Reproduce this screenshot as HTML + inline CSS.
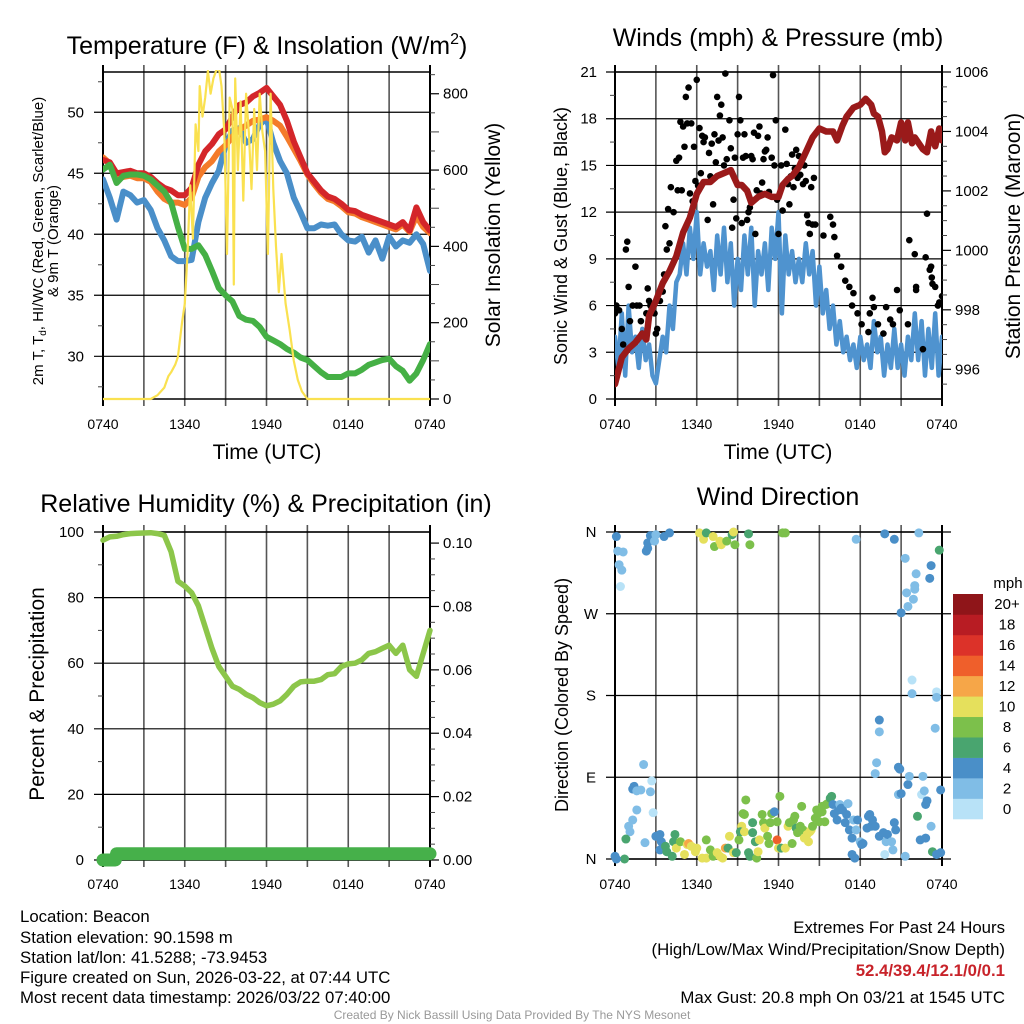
<!DOCTYPE html>
<html><head><meta charset="utf-8"><style>
html,body{margin:0;padding:0;background:#fff;}
svg{display:block;font-family:"Liberation Sans",Arial,sans-serif;}
</style></head><body>
<svg id="fig" width="1024" height="1024" viewBox="0 0 1024 1024" xmlns="http://www.w3.org/2000/svg">
<rect width="1024" height="1024" fill="#fff"/>
<text x="267" y="54" font-size="25" text-anchor="middle">Temperature (F) &amp; Insolation (W/m<tspan dy="-10" font-size="16">2</tspan><tspan dy="10">)</tspan></text>
<text x="778" y="46" font-size="25" text-anchor="middle">Winds (mph) &amp; Pressure (mb)</text>
<text x="266" y="512" font-size="25" text-anchor="middle">Relative Humidity (%) &amp; Precipitation (in)</text>
<text x="778" y="505" font-size="25" text-anchor="middle">Wind Direction</text>
<text x="267" y="459" font-size="21" text-anchor="middle">Time (UTC)</text>
<text x="778" y="459" font-size="21" text-anchor="middle">Time (UTC)</text>
<text transform="translate(43,241) rotate(-90)" font-size="15" text-anchor="middle">2m T, T<tspan dy="3" font-size="10">d</tspan><tspan dy="-3">, HI/WC (Red, Green, Scarlet/Blue)</tspan></text>
<text transform="translate(58,241) rotate(-90)" font-size="15" text-anchor="middle">&amp; 9m T (Orange)</text>
<text transform="translate(500,235) rotate(-90)" font-size="21" text-anchor="middle">Solar Insolation (Yellow)</text>
<text transform="translate(567,236) rotate(-90)" font-size="18" text-anchor="middle">Sonic Wind &amp; Gust (Blue, Black)</text>
<text transform="translate(1020,236) rotate(-90)" font-size="21" text-anchor="middle">Station Pressure (Maroon)</text>
<text transform="translate(44,694) rotate(-90)" font-size="21" text-anchor="middle">Percent &amp; Precipitation</text>
<text transform="translate(568,695) rotate(-90)" font-size="18" text-anchor="middle">Direction (Colored By Speed)</text>
<g id="layer"></g>
<g font-size="16.8">
<text x="20" y="922">Location: Beacon</text>
<text x="20" y="943">Station elevation: 90.1598 m</text>
<text x="20" y="963">Station lat/lon: 41.5288; -73.9453</text>
<text x="20" y="983">Figure created on Sun, 2026-03-22, at 07:44 UTC</text>
<text x="20" y="1003">Most recent data timestamp: 2026/03/22 07:40:00</text>
</g>
<g font-size="16.8" text-anchor="end">
<text x="1005" y="933">Extremes For Past 24 Hours</text>
<text x="1005" y="955">(High/Low/Max Wind/Precipitation/Snow Depth)</text>
<text x="1005" y="976" fill="#c8232a" font-weight="bold">52.4/39.4/12.1/0/0.1</text>
<text x="1005" y="1003">Max Gust: 20.8 mph On 03/21 at 1545 UTC</text>
</g>
<text x="512" y="1019" font-size="12" fill="#999" text-anchor="middle">Created By Nick Bassill Using Data Provided By The NYS Mesonet</text>
</svg>
<script>
// ---------- data ----------
const hourTicks = ["0740","1340","1940","0140","0740"];
const halfHours = [0,0.5,1,1.5,2,2.5,3,3.5,4,4.5,5,5.5,6,6.5,7,7.5,8,8.5,9,9.5,10,10.5,11,11.5,12,12.5,13,13.5,14,14.5,15,15.5,16,16.5,17,17.5,18,18.5,19,19.5,20,20.5,21,21.5,22,22.5,23,23.5,24];
const tempRed = [46.1,45.9,45.0,45.1,45.2,45.0,45.0,44.7,44.2,43.8,43.6,43.2,43.2,43.8,45.7,46.8,47.4,48.2,48.6,49.6,50.6,50.8,51.3,51.6,52.0,51.3,50.6,49.3,47.6,46.3,45.0,44.3,43.6,43.1,42.9,42.5,42.0,41.9,41.6,41.4,41.2,41.0,40.8,40.6,41.0,40.3,42.2,41.0,40.3];
const tempOrange = [46.3,45.8,44.6,44.7,44.8,44.6,44.6,44.3,43.5,42.9,42.6,42.6,42.4,43.0,44.7,45.5,46.0,46.8,47.3,48.0,48.6,48.9,49.3,49.4,49.6,49.3,48.9,48.0,47.0,46.0,44.9,44.1,43.4,42.9,42.7,42.3,41.8,41.7,41.4,41.2,41.0,40.8,40.6,40.4,40.8,40.2,41.5,40.6,40.1];
const dewGreen = [45.3,45.7,44.2,44.8,44.9,44.9,44.8,44.5,44.0,43.5,42.6,40.6,38.8,38.8,39.1,38.3,37.0,35.6,35.0,34.5,33.3,33.0,32.9,32.4,31.6,31.3,31.0,30.6,30.3,29.9,29.7,29.2,28.7,28.3,28.3,28.3,28.6,28.6,28.9,29.3,29.5,29.7,29.8,29.2,28.8,28.0,28.6,29.7,31.0];
const chillBlue = [44.5,43.0,41.2,43.5,43.2,42.6,42.8,42.0,40.5,39.5,38.2,37.8,37.8,37.9,41.0,43.0,44.2,45.2,47.3,48.5,48.7,47.5,47.8,49.0,49.5,47.5,46.0,45.0,43.0,41.8,40.5,40.5,40.8,40.7,40.8,40.0,39.5,39.4,39.8,38.5,39.5,38.0,39.8,39.0,39.5,39.3,40.0,39.2,37.0];
const solarTimes = [0,3.5,4,4.5,4.8,5,5.3,5.5,5.8,6,6.2,6.4,6.6,6.8,7,7.1,7.3,7.5,7.7,7.9,8.1,8.3,8.5,8.7,8.9,9.1,9.3,9.5,9.6,9.7,9.9,10.1,10.3,10.5,10.7,10.9,11.1,11.3,11.5,11.7,11.9,12.1,12.3,12.5,12.7,12.9,13.1,13.4,13.7,14,14.3,14.6,15,15.5,24];
const solarVals = [0,0,10,30,60,70,90,110,200,250,380,560,420,720,650,820,740,790,860,800,840,860,870,820,700,380,790,760,300,840,600,780,520,800,700,550,760,600,800,700,650,380,800,550,400,280,380,250,180,100,50,20,0,0,0];
const windVals = [4,2,5.5,1.5,6,3,4,2,4.5,2.5,3.5,1.5,1,2.5,4,3,6,4.5,7.5,8,10,8,11,9,12,8,10,8.5,9.5,7,10.5,8,11,7.5,10,6,9,7,10.5,8,11,6,9.5,8,10,7,11,9,12,5.5,10.5,8,9.5,7.5,9,7.5,10,8,9.5,6,8.5,5.5,7,4.5,6,3.5,5,3,4,2.5,3.5,2,4,2.5,3.5,2,5,3,4,1.5,3.5,2,4.5,2,3.5,1.5,4,2.5,5.5,2.5,5,1.5,4.5,2,5.5,1.5,4];
const gustTimes = [0,0.1,0.3,0.5,0.6,0.8,0.9,1,1.1,1.3,1.5,1.6,1.8,1.9,2,2.3,2.4,2.5,2.6,2.7,2.9,3,3.1,3.3,3.5,3.6,3.7,3.8,3.9,4,4.1,4.3,4.5,4.6,4.7,4.8,4.9,5,5.1,5.2,5.3,5.4,5.5,5.6,5.7,5.8,5.9,6,6.1,6.2,6.3,6.4,6.5,6.6,6.8,6.9,7,7.1,7.2,7.3,7.4,7.5,7.6,7.7,7.8,7.9,8,8.1,8.2,8.4,8.5,8.6,8.7,8.8,8.9,9,9.1,9.2,9.3,9.4,9.5,9.6,9.7,9.8,9.9,10,10.1,10.2,10.3,10.4,10.5,10.6,10.7,10.8,10.9,11,11.1,11.2,11.3,11.5,11.6,11.7,11.8,11.9,12,12.2,12.3,12.5,12.6,12.7,12.8,12.9,13,13.1,13.2,13.3,13.4,13.5,13.6,13.8,13.9,14,14.1,14.2,14.3,14.4,14.5,14.6,14.7,15.3,15.8,16,16.1,16.3,16.6,16.9,17.2,17.4,17.5,17.8,18.1,18.6,18.7,18.9,19,19.3,19.7,19.9,20.2,20.4,20.7,20.9,21.5,21.6,22,22.1,22.1,22.6,22.8,22.9,23.1,23.2,23.25,23.3,23.5,23.7,23.8,24];
const gustVals = [5.5,6,5.7,4.5,3.5,9.6,10.1,7.2,5,6,8.5,6,6,5,4.2,5.5,7.1,6.3,6,5.8,5.5,4.2,4.5,6.3,6.9,8,11.1,9.6,12.2,10,13.6,12,15.3,13.4,15.5,17.8,13.4,17.5,16.2,19.4,17.7,20,13.2,17.7,12.7,16.2,14,20.5,13.7,17.4,14.5,16.9,16.5,16.8,11.5,15.8,14.3,16.4,12.5,17,15.2,19.4,16.6,18.2,18.9,16.8,15,20.9,15.4,17.9,16.1,11,12.8,15.5,11.6,17,19.4,17.9,11.3,15.5,17,15.6,11.5,12,12.3,15.6,15.4,17.1,10.6,13.4,16.9,17.5,13.2,13.9,15.4,15.9,16,16.8,13.3,15.5,20.8,15,17.9,12.8,10.6,15,12.1,17.3,15.1,13.8,12.5,14.3,15.7,13.6,14.8,16,14.2,15.6,14.4,13.8,15,14,11.8,11.3,10.6,13.6,11.2,14.2,11.2,10.5,11.7,11.2,10.4,9.2,8.5,7.6,7.2,6,6.8,5.5,4.8,4.3,5.5,6.5,5.9,4.8,4.2,5.9,5.1,4.8,7,5.7,4.8,10.2,9.3,7.2,7,3.2,9.1,11.9,8.3,8.5,7.8,7.4,7.2,6,6.2,6.6,3.5];
const pressTimes = [0,0.5,1,1.5,2,2.3,2.5,3,3.5,4,4.5,5,5.5,6,6.5,7,7.5,8,8.5,9,9.3,9.7,10,10.5,11,11.5,12,12.3,12.7,13,13.5,14,14.5,15,15.5,16,16.3,16.7,17,17.5,18,18.4,18.8,19,19.3,19.6,19.8,20,20.3,20.7,21,21.3,21.5,21.8,22,22.3,22.6,22.9,23.2,23.5,23.8,24];
const pressVals = [995.5,996.4,996.7,996.9,997.2,997.0,997.8,998.3,998.9,999.3,999.8,1000.6,1001.1,1001.9,1002.3,1002.3,1002.5,1002.6,1002.7,1002.2,1002.2,1002.0,1001.6,1001.8,1001.9,1001.8,1001.8,1002.2,1002.4,1002.5,1002.8,1003.3,1003.8,1004.1,1004.0,1004.0,1003.7,1004.2,1004.5,1004.8,1004.9,1005.1,1004.9,1004.6,1004.5,1004.0,1003.3,1003.4,1003.8,1003.7,1004.3,1003.7,1004.3,1003.6,1003.8,1003.6,1003.4,1003.3,1004.0,1003.5,1004.1,1003.7];
const rhVals = [97.5,98.5,98.7,99.2,99.5,99.6,99.7,99.8,99.5,99.0,94,85,83.5,81.5,77.5,71,64.5,59,56,53,52,50.5,49.5,48,47,47.5,48.5,50.5,53,54.3,54.5,54.5,55,56.5,56.8,59,59.8,60,61,63,63.5,64.5,65.5,63,65.5,58,56,63,70];
const precipTimes = [0,0.9,1.0,24];
const precipVals = [0,0,0.002,0.002];
const dirTimes = [0.1,0.2,0.6,0.3,0.5,0.4,2.3,2.4,2.4,2.6,2.9,3,3.6,4,6.2,6.5,6.7,7.2,7.3,7.7,7.8,8.2,8.6,8.7,8.8,9.8,9.9,12.3,12.5,17.7,19.8,20.5,21.3,22.3,23.8,23.2,23.1,22.1,22,22,21.4,21.9,21.5,21,21.8,21.8,23.6,23.6,19.4,19.4,23.5,19.2,19.1,2.1,2.7,20.8,20.9,1.4,1.3,1.6,1.9,2.6,1.6,1.3,1,1.1,0.8,0.7,0,0.1,2.8,2.2,3,3.3,3.4,3.3,3.7,3.8,4.2,4.4,4.3,4.5,4.8,5.1,5.3,5.4,5.6,5.9,6,6.4,6.7,6.7,7,7.2,7.5,7.7,7.9,8.1,8.3,8.4,8.7,8.9,9.1,9.3,9.2,9.5,9.4,9.6,9.5,9.8,9.9,10.1,10.1,10.3,10.4,10.5,10.6,10.8,10.9,11,11.2,11.3,11.4,11.5,11.7,11.9,11.9,12,12.1,12.2,12.5,12.7,12.8,13,13.1,13.2,13.3,13.4,13.6,13.7,13.8,13.9,14.1,14.2,14.3,14.4,14.5,14.7,14.8,14.9,15,15.2,15.2,15.4,15.5,15.6,15.8,15.9,16,16.1,16.3,16.4,16.5,16.6,16.7,16.9,17,17.1,17.2,17.4,17.5,17.4,17.6,17.7,17.8,18,18.1,18.2,18.5,18.6,18.7,18.8,18.9,19.1,19.4,19.7,19.8,19.9,20,20.3,20.4,20.5,20.6,20.8,21,21.3,21.5,21.6,22.2,22.4,22.5,22.6,22.7,22.8,22.9,22.8,23.2,23.3,23.6,23.9,23.9];
const dirDegs = [355,339,338,324,318,300,339,342,348,356,350,357,355,359,359,352,359,355,344,350,346,350,357,360,346,358,346,359,359,352,358,352,331,359,340,323,309,314,301,297,293,286,278,271,197,182,184,178,153,140,144,106,94,104,86,101,99,80,77,75,76,74,54,43,36,30,22,0,3,0,51,18,25,27,19,10,14,8,3,27,19,12,19,5,16,17,14,8,12,1,21,1,10,3,7,3,1,12,12,25,7,7,21,36,30,30,50,65,49,7,3,29,40,19,1,8,21,49,40,34,25,17,40,50,52,41,21,12,69,12,12,36,40,17,43,47,34,29,36,58,32,23,27,19,30,32,36,45,54,50,41,52,58,41,60,61,67,69,60,50,43,54,60,56,54,40,49,61,32,23,43,5,1,32,43,19,16,17,34,47,49,36,43,36,25,29,5,19,27,19,10,40,32,71,72,3,82,91,47,21,71,91,75,23,64,60,36,8,5,76,7];
const dirSpeeds = [5,3,3,3,3,1,5,5,5,5,3,3,5,5,11,11,7,11,9,11,11,9,7,11,9,7,9,9,9,3,5,5,3,3,7,5,5,3,3,3,3,3,3,5,1,3,1,3,5,3,3,3,3,3,1,5,5,5,5,3,3,3,3,3,3,3,7,7,5,5,1,3,5,5,5,5,7,7,7,7,7,11,9,11,11,13,11,11,11,11,9,11,9,9,11,11,11,13,7,11,11,7,9,11,7,11,9,9,9,7,7,7,7,7,9,11,11,9,9,11,9,9,9,9,5,9,15,11,9,7,11,11,9,9,9,9,7,9,9,9,9,11,11,11,11,11,9,9,9,9,9,9,9,9,9,9,7,7,5,5,5,5,3,5,5,5,5,3,5,5,3,5,5,3,5,3,5,5,5,5,5,5,5,5,5,5,1,3,5,3,3,5,5,3,5,3,5,3,7,5,1,3,3,5,5,5,3,7,5,5,5,3,3];
const cbarColors = ["#b8e2f7","#80bde6","#4a8fc8","#49a56f","#7cc04b","#e5e05c","#f6a648","#ef5f2b","#dc3229","#b81c23","#8f1519"];
const cbarLabels = ["0","2","4","6","8","10","12","14","16","18","20+"];

// ---------- drawing ----------
const NS="http://www.w3.org/2000/svg";
const layer=document.getElementById('layer');
function mk(tag,attrs,parent){const e=document.createElementNS(NS,tag);for(const k in attrs)e.setAttribute(k,attrs[k]);(parent||layer).appendChild(e);return e;}
function panel(x0,x1,y0,y1){return {x0,x1,y0,y1,sx:h=>x0+(x1-x0)*h/24};}
const P1=panel(103,430,72,399),P2=panel(615,942,72,399),P3=panel(103,430,532,860),P4=panel(615,942,532,859);
function lin(d0,d1,p0,p1){return v=>p0+(v-d0)*(p1-p0)/(d1-d0);}
const y1L=lin(26.5,53.3,399,72), y1R=lin(0,857,399,72);
const y2L=lin(0,21,399,72), y2R=lin(995,1006,399,72);
const y3L=lin(0,100,860,532), y3R=lin(0,0.1035,860,532);
const y4=lin(0,360,859,532);

function frame(P,name,tickRow){
  const g=mk('g',{});
  
  
  for(let i=0;i<=8;i++){
    const x=P.x0+(P.x1-P.x0)*i/8;
    const l=mk('line',{x1:x,x2:x,y1:P.y0-7,y2:P.y1+7,stroke:(i==0||i==8)?'#000':'#555','stroke-width':(i==0||i==8)?2:1.6},g);
    
    
  }
  const r=mk('rect',{x:P.x0,y:P.y0,width:P.x1-P.x0,height:P.y1-P.y0,fill:'none',stroke:'#000','stroke-width':1.5},g);
  
  
  hourTicks.forEach((t,i)=>{
    const tx=mk('text',{x:P.x0+(P.x1-P.x0)*i/4,y:tickRow,'font-size':14,'text-anchor':'middle'},g);
    tx.textContent=t;
    
    
  });
}
function hgrid(P,ys,labels,xr,lx,anchor,fs){
  ys.forEach((y,i)=>{
    const l=mk('line',{x1:P.x0-9,x2:xr,y1:y,y2:y,stroke:'#000','stroke-width':1.2});
    
    
    const t=mk('text',{x:lx,y:y+5,'font-size':fs||15,'text-anchor':anchor||'end'});
    t.textContent=labels[i];
    
    
  });
}
function minorTicks(x,ys,dir,len){ys.forEach(y=>{const l=mk('line',{x1:x,x2:x+dir*len,y1:y,y2:y,stroke:'#444','stroke-width':1});});}
function rightTicks(P,vals,f,labels,lx){
  vals.forEach((v,i)=>{const y=f(v);
    const l=mk('line',{x1:P.x1,x2:P.x1+9,y1:y,y2:y,stroke:'#000','stroke-width':1.2});
    
    
    const t=mk('text',{x:lx,y:y+5,'font-size':15});
    t.textContent=labels[i];
    
    
  });
}
function path(xs,ys,sx,sy,attrs,name){
  let d='',pen=false;
  for(let i=0;i<xs.length;i++){
    if(ys[i]==null){pen=false;continue;}
    d+=(pen?'L':'M')+sx(xs[i]).toFixed(1)+','+sy(ys[i]).toFixed(1);pen=true;
  }
  const p=mk('path',Object.assign({d,fill:'none','stroke-linejoin':'round','stroke-linecap':'round'},attrs));
  
  
  return p;
}
const defs=mk('defs',{});
[[P1,'c1'],[P2,'c2'],[P3,'c3'],[P4,'c4']].forEach(([P,id])=>{const c=mk('clipPath',{id},defs);mk('rect',{x:P.x0,y:P.y0-2,width:P.x1-P.x0,height:P.y1-P.y0+4},c);});

// Panel 1
frame(P1,'temperature',429);
hgrid(P1,[30,35,40,45,50].map(y1L),['30','35','40','45','50'],P1.x1,84);
minorTicks(P1.x0,[27.5,32.5,37.5,42.5,47.5,52.5].map(y1L),-1,5);
rightTicks(P1,[0,200,400,600,800],y1R,['0','200','400','600','800'],443);
minorTicks(P1.x1,[100,300,500,700].map(y1R),1,9);
minorTicks(P1.x1,[50,150,250,350,450,550,650,750,850].map(y1R),1,5);
const g1=mk('g',{'clip-path':'url(#c1)'});
const p1a=path(halfHours,chillBlue,P1.sx,y1L,{stroke:'#4a8fc9','stroke-width':6},'wind-chill-line');
const p1b=path(halfHours,tempOrange,P1.sx,y1L,{stroke:'#f47b2a','stroke-width':6},'temp-9m-line');
const p1c=path(halfHours,tempRed,P1.sx,y1L,{stroke:'#d4262a','stroke-width':6},'temp-2m-line');
const p1d=path(halfHours,dewGreen,P1.sx,y1L,{stroke:'#45b045','stroke-width':6},'dewpoint-line');
const p1e=path(solarTimes,solarVals,P1.sx,y1R,{stroke:'#fae150','stroke-width':2.2},'solar-line');
[p1a,p1b,p1c,p1d,p1e].forEach(p=>g1.appendChild(p));

// Panel 2
frame(P2,'winds',429);
hgrid(P2,[0,3,6,9,12,15,18,21].map(y2L),['0','3','6','9','12','15','18','21'],P2.x1,597);
minorTicks(P2.x0,[1.5,4.5,7.5,10.5,13.5,16.5,19.5].map(y2L),-1,5);
rightTicks(P2,[996,998,1000,1002,1004,1006],y2R,['996','998','1000','1002','1004','1006'],955);
minorTicks(P2.x1,[995.5,996.5,997,997.5,998.5,999,999.5,1000.5,1001,1001.5,1002.5,1003,1003.5,1004.5,1005,1005.5].map(y2R),1,5);
const g2=mk('g',{'clip-path':'url(#c2)'});
const windTimes=windVals.map((v,i)=>i*0.25);
g2.appendChild(path(windTimes,windVals,P2.sx,y2L,{stroke:'#4f93cf','stroke-width':4.5},'sonic-wind-line'));
gustTimes.forEach((t,i)=>{
  const c=mk('circle',{cx:P2.sx(t),cy:y2L(gustVals[i]),r:3.3,fill:'#000'},g2);
  
  
});
g2.appendChild(path(pressTimes,pressVals,P2.sx,y2R,{stroke:'#9a1a1a','stroke-width':6.5},'pressure-line'));

// Panel 3
frame(P3,'humidity',889);
hgrid(P3,[0,20,40,60,80,100].map(y3L),['0','20','40','60','80','100'],P3.x1,84);
minorTicks(P3.x0,[10,30,50,70,90].map(y3L),-1,5);
rightTicks(P3,[0,0.02,0.04,0.06,0.08,0.1],y3R,['0.00','0.02','0.04','0.06','0.08','0.10'],443);
minorTicks(P3.x1,[0.005,0.01,0.015,0.025,0.03,0.035,0.045,0.05,0.055,0.065,0.07,0.075,0.085,0.09,0.095].map(y3R),1,5);
const g3=mk('g',{});
g3.appendChild(path(halfHours,rhVals,P3.sx,y3L,{stroke:'#8cc64a','stroke-width':5.5},'humidity-line'));
g3.appendChild(path(precipTimes,precipVals,P3.sx,y3R,{stroke:'#46b04a','stroke-width':13},'precipitation-line'));

// Panel 4
frame(P4,'wind-direction',889);
const dirLabels=['N','E','S','W','N'];
[0,90,180,270,360].forEach((d,i)=>{
  const y=y4(d);
  const l=mk('line',{x1:P4.x0-9,x2:P4.x1+9,y1:y,y2:y,stroke:'#000','stroke-width':1.2});
  
  
  const t=mk('text',{x:591,y:y+5,'font-size':15,'text-anchor':'middle'});
  t.textContent=dirLabels[i];
  
  
});
const g4=mk('g',{});
dirTimes.forEach((t,i)=>{
  const bin=Math.min(10,Math.floor(dirSpeeds[i]/2));
  const c=mk('circle',{cx:P4.sx(t),cy:y4(dirDegs[i]),r:4.5,fill:cbarColors[bin]},g4);
  
  
});
const cb=mk('g',{});


const cbTop=594,cbBot=819,cbH=(cbBot-cbTop)/11;
cbarColors.forEach((col,i)=>{
  const y=cbBot-(i+1)*cbH;
  const r=mk('rect',{x:953,y:y,width:30,height:cbH+0.3,fill:col},cb);
  
  
  const t=mk('text',{x:1007,y:y+cbH/2+5,'font-size':15,'text-anchor':'middle'},cb);
  t.textContent=cbarLabels[i];
  
  
});
const mph=mk('text',{x:1008,y:588,'font-size':15,'text-anchor':'middle'},cb);
mph.textContent='mph';


</script>
</body></html>
